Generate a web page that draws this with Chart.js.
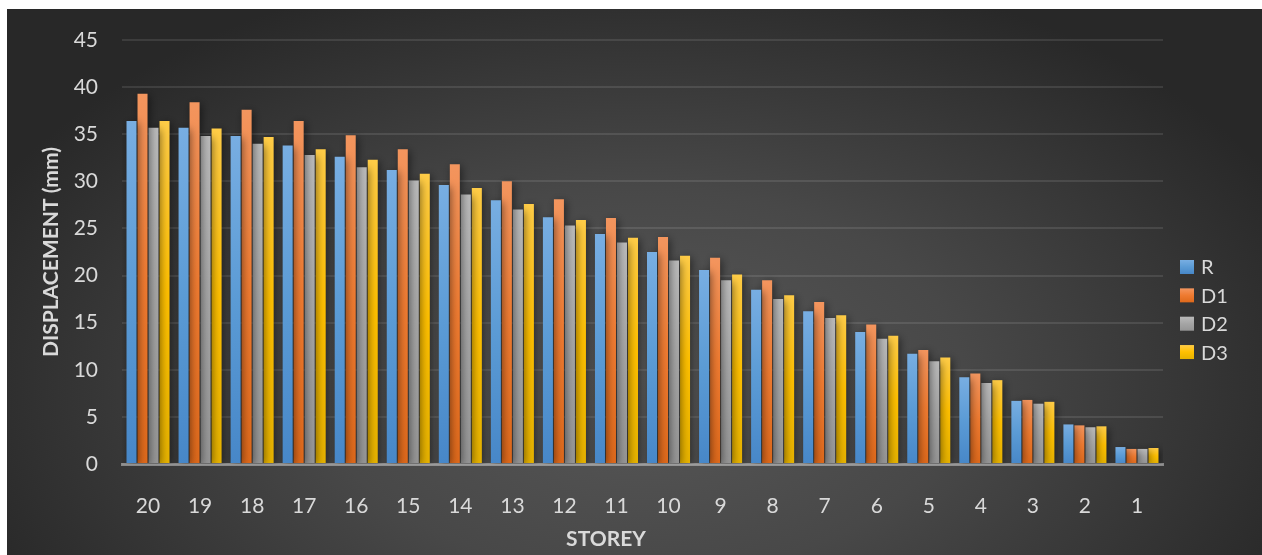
<!DOCTYPE html>
<html>
<head>
<meta charset="utf-8">
<script src="https://cdn.jsdelivr.net/npm/chart.js@4/dist/chart.umd.min.js"></script>
<style>
  html, body { margin: 0; padding: 0; background: #ffffff; }
  #wrap { position: absolute; left: 7px; top: 9px; width: 1255px; height: 546px; }
  canvas { display: block; }
</style>
</head>
<body>
<div id="wrap"><canvas id="chart" width="1255" height="546"></canvas></div>
<script>
// Storey labels, top storey first
const storeys = ['20','19','18','17','16','15','14','13','12','11','10','9','8','7','6','5','4','3','2','1'];

// Lateral displacement per storey (mm)
const dispR  = [36.4, 35.7, 34.8, 33.8, 32.6, 31.2, 29.6, 28.0, 26.2, 24.4, 22.5, 20.6, 18.5, 16.2, 14.0, 11.7, 9.2, 6.7, 4.2, 1.8];
const dispD1 = [39.3, 38.4, 37.6, 36.4, 34.9, 33.4, 31.8, 30.0, 28.1, 26.1, 24.1, 21.9, 19.5, 17.2, 14.8, 12.1, 9.6, 6.8, 4.1, 1.6];
const dispD2 = [35.7, 34.8, 34.0, 32.8, 31.5, 30.1, 28.6, 27.0, 25.3, 23.5, 21.6, 19.5, 17.5, 15.5, 13.3, 10.9, 8.6, 6.4, 3.9, 1.6];
const dispD3 = [36.4, 35.6, 34.7, 33.4, 32.3, 30.8, 29.3, 27.6, 25.9, 24.0, 22.1, 20.1, 17.9, 15.8, 13.6, 11.3, 8.9, 6.6, 4.0, 1.7];

const seriesNames = ['R', 'D1', 'D2', 'D3'];

// light-top / base / dark-bottom shades for each series
const shades = {
  R:  ['#78aee2', '#5b9bd5', '#4787c8'],
  D1: ['#f3955e', '#ef7b31', '#de691b'],
  D2: ['#bababa', '#a5a5a5', '#959595'],
  D3: ['#ffcc47', '#ffc000', '#e6b200']
};

const TEXT = '#d9d9d9';
const FONT = 'Lato, "Open Sans", "DejaVu Sans", sans-serif';

function verticalFill(ctx, yTop, yBottom, s) {
  const g = ctx.createLinearGradient(0, yTop, 0, yBottom);
  g.addColorStop(0, s[0]);
  g.addColorStop(0.5, s[1]);
  g.addColorStop(1, s[2]);
  return g;
}

function barFill(name) {
  const s = shades[name];
  return (c) => {
    const chart = c.chart;
    if (!chart.chartArea || c.type !== 'data' || !chart.scales.y) return s[1];
    const y = chart.scales.y;
    const top = y.getPixelForValue(c.raw);
    const base = y.getPixelForValue(0);
    if (!isFinite(top) || !isFinite(base) || base - top < 1) return s[1];
    return verticalFill(chart.ctx, top, base, s);
  };
}

// dark radial backdrop
const backdrop = {
  id: 'backdrop',
  beforeDraw(chart) {
    const { ctx, width, height } = chart;
    ctx.save();
    const cx = 633, cy = 372, rx = 720, ry = 430;
    ctx.fillStyle = '#262626';
    ctx.fillRect(0, 0, width, height);
    ctx.translate(cx, cy);
    ctx.scale(rx / ry, 1);
    const g = ctx.createRadialGradient(0, 0, 0, 0, 0, ry);
    g.addColorStop(0, '#585858');
    g.addColorStop(0.45, '#484848');
    g.addColorStop(1, '#282828');
    ctx.fillStyle = g;
    ctx.fillRect(-cx * ry / rx - 5, -cy - 5, width * ry / rx + 10, height + 10);
    ctx.restore();
  }
};

// soft drop shadow behind the bars
const barShadow = {
  id: 'barShadow',
  beforeDatasetsDraw(chart) {
    const ctx = chart.ctx;
    ctx.save();
    ctx.shadowColor = 'rgba(0,0,0,0.5)';
    ctx.shadowBlur = 8;
    ctx.shadowOffsetX = 2;
    ctx.shadowOffsetY = 2;
  },
  afterDatasetsDraw(chart) {
    chart.ctx.restore();
  }
};

// vertical series key at the right of the plot, plus the category-axis caption
const sideKey = {
  id: 'sideKey',
  afterDraw(chart) {
    const ctx = chart.ctx;
    const x = 1173, box = 14, firstY = 258, step = 28.35;
    ctx.save();
    ctx.font = '20px ' + FONT;
    ctx.textBaseline = 'middle';
    ctx.textAlign = 'left';
    chart.data.datasets.forEach((ds, i) => {
      const cy = firstY + i * step;
      ctx.fillStyle = verticalFill(ctx, cy - box / 2, cy + box / 2, shades[ds.label]);
      ctx.fillRect(x, cy - box / 2, box, box);
      ctx.fillStyle = TEXT;
      ctx.fillText(ds.label, x + box + 7, cy + 1);
    });
    ctx.font = 'bold 21px ' + FONT;
    ctx.textAlign = 'center';
    ctx.fillText('STOREY', 599, 530);
    ctx.restore();
  }
};

const values = [dispR, dispD1, dispD2, dispD3];

new Chart(document.getElementById('chart'), {
  type: 'bar',
  data: {
    labels: storeys,
    datasets: seriesNames.map((name, i) => ({
      label: name,
      data: values[i],
      backgroundColor: barFill(name),
      borderWidth: 0,
      categoryPercentage: 0.846,
      barPercentage: 0.91
    }))
  },
  options: {
    responsive: false,
    animation: false,
    devicePixelRatio: 1,
    layout: { padding: { top: 31, right: 99, left: 0, bottom: 0 } },
    plugins: {
      legend: { display: false },
      tooltip: { enabled: false }
    },
    scales: {
      x: {
        z: 1,
        grid: { display: false },
        border: { display: true, color: 'rgba(215,215,215,0.5)', width: 3 },
        ticks: { color: TEXT, font: { family: FONT, size: 21 }, padding: 22, maxRotation: 0 },
        afterFit(scale) { scale.height = 91; }
      },
      y: {
        min: 0,
        max: 45,
        ticks: { stepSize: 5, color: TEXT, font: { family: FONT, size: 21 }, padding: 24 },
        grid: { color: 'rgba(255,255,255,0.1)', lineWidth: 2, drawTicks: false },
        border: { display: false },
        title: { display: true, text: 'DISPLACEMENT (mm)', color: TEXT, font: { family: FONT, size: 21, weight: 'bold' }, padding: { top: 32, bottom: 0 } },
        afterFit(scale) {
          scale.width = 115;
          scale.paddingTop = 0;
          scale.paddingBottom = 0;
        }
      }
    }
  },
  plugins: [backdrop, barShadow, sideKey]
});
</script>
</body>
</html>
